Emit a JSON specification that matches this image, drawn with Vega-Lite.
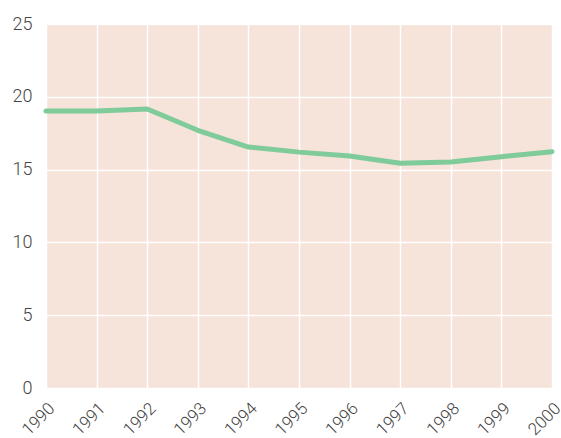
{
  "$schema": "https://vega.github.io/schema/vega-lite/v6.json",
  "width": 506,
  "height": 364,
  "autosize": "none",
  "padding": {"left": 46, "top": 24, "right": 9, "bottom": 50},
  "background": "white",
  "config": {
    "view": {"fill": "#f6e3da", "stroke": null},
    "font": "Roboto"
  },
  "data": {
    "values": [
      {"year": 1990, "value": 19.02},
      {"year": 1991, "value": 19.02},
      {"year": 1992, "value": 19.16},
      {"year": 1993, "value": 17.7},
      {"year": 1994, "value": 16.55},
      {"year": 1995, "value": 16.2},
      {"year": 1996, "value": 15.93},
      {"year": 1997, "value": 15.43},
      {"year": 1998, "value": 15.52},
      {"year": 1999, "value": 15.89},
      {"year": 2000, "value": 16.23}
    ]
  },
  "mark": {"type": "line", "color": "#7fcb9a", "strokeWidth": 5, "strokeCap": "round", "strokeJoin": "round"},
  "encoding": {
    "x": {
      "field": "year",
      "type": "quantitative",
      "scale": {"domain": [1990, 2000], "nice": false, "zero": false},
      "axis": {
        "title": null,
        "values": [1990, 1991, 1992, 1993, 1994, 1995, 1996, 1997, 1998, 1999, 2000],
        "format": "d",
        "labelAngle": -45,
        "labelAlign": "right",
        "labelBaseline": "top",
        "labelFontSize": 17,
        "labelFontWeight": 300,
        "labelColor": "#444444",
        "labelPadding": 12,
        "labelFlush": false,
        "labelOverlap": false,
        "domain": false,
        "ticks": false,
        "grid": true,
        "gridColor": "white",
        "gridWidth": 1.5,
        "gridOpacity": 1
      }
    },
    "y": {
      "field": "value",
      "type": "quantitative",
      "scale": {"domain": [0, 25], "nice": false},
      "axis": {
        "title": null,
        "values": [0, 5, 10, 15, 20, 25],
        "labelFontSize": 18,
        "labelFontWeight": 300,
        "labelColor": "#444444",
        "labelPadding": 14,
        "labelFlush": false,
        "domain": false,
        "ticks": false,
        "grid": true,
        "gridColor": "white",
        "gridWidth": 1.5,
        "gridOpacity": 1
      }
    }
  }
}
